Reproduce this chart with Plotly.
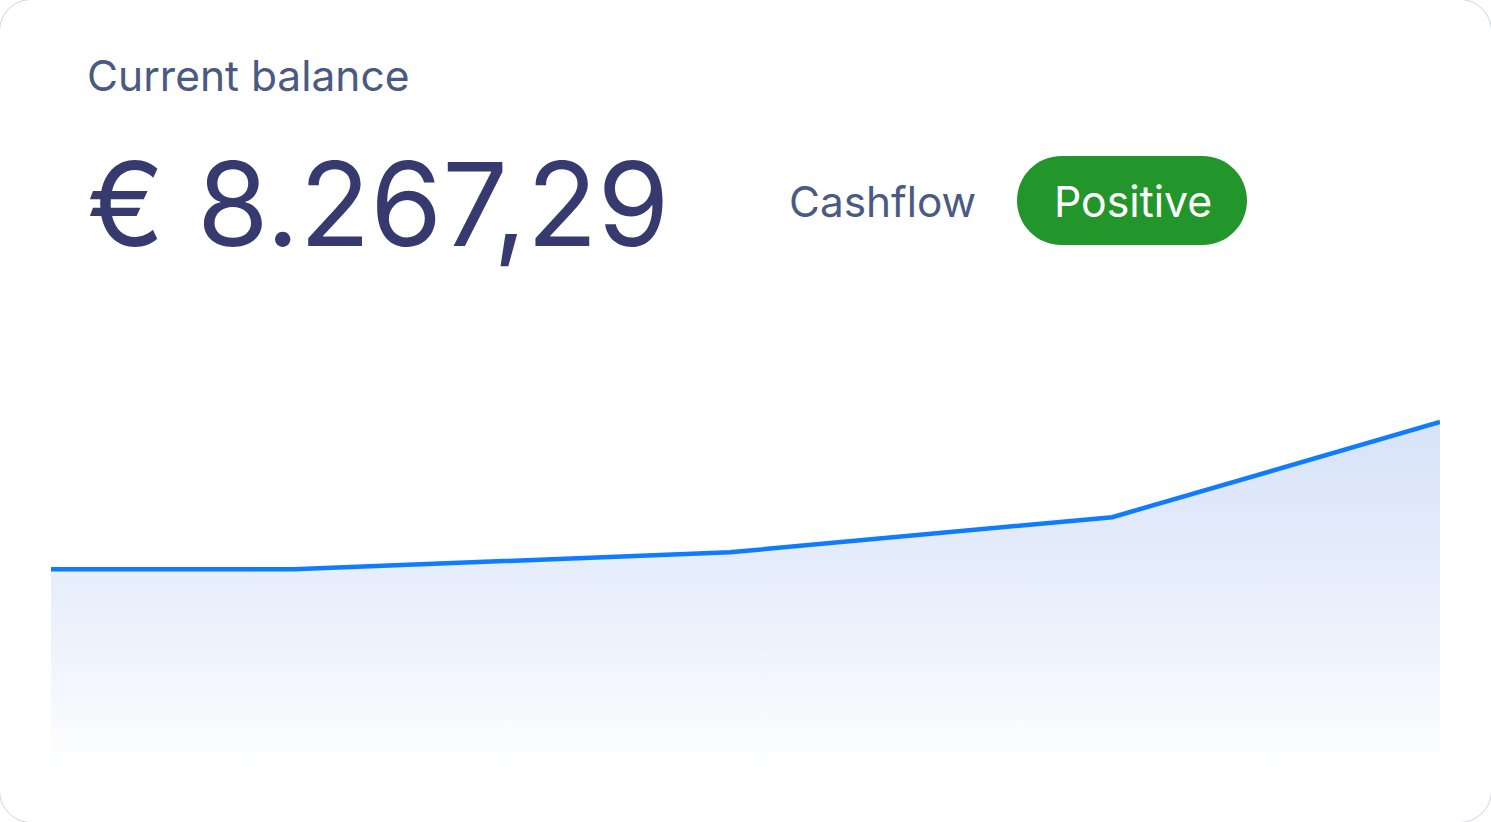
import plotly.graph_objects as go

# ---- data ----
days = [0, 5.23, 14.66, 22.92, 30]
balance = [4790, 4790, 5190, 6020, 8267.29]
title_text = "Current balance"
balance_text = "€ 8.267,29"
cashflow_label = "Cashflow"
cashflow_status = "Positive"

# ---- geometry (pixels) ----
W, H = 1491, 822
ML, MR, MT, MB = 51, 51, 300, 50
PW, PH = W - ML - MR, H - MT - MB


def px(x):
    return (x - ML) / PW


def py(y):
    return (H - MB - y) / PH


def rrect(w, h, r):
    k = 0.5523 * r
    hw, hh = w / 2, h / 2
    return (
        f"M {-hw + r},{-hh} L {hw - r},{-hh} "
        f"C {hw - r + k},{-hh} {hw},{-hh + r - k} {hw},{-hh + r} "
        f"L {hw},{hh - r} "
        f"C {hw},{hh - r + k} {hw - r + k},{hh} {hw - r},{hh} "
        f"L {-hw + r},{hh} "
        f"C {-hw + r - k},{hh} {-hw},{hh - r + k} {-hw},{hh - r} "
        f"L {-hw},{-hh + r} "
        f"C {-hw},{-hh + r - k} {-hw + r - k},{-hh} {-hw + r},{-hh} Z"
    )


fig = go.Figure()
fig.add_trace(
    go.Scatter(
        x=days,
        y=balance,
        mode="lines",
        line=dict(color="#0f7bff", width=4.5),
        fill="tozeroy",
        fillgradient=dict(
            type="vertical",
            start=0,
            stop=max(balance),
            colorscale=[[0, "rgba(255,255,255,1)"], [0.4, "#ecf1fc"], [1, "#d8e3f9"]],
        ),
        hoverinfo="skip",
    )
)

FONT = "Inter, 'Noto Sans', sans-serif"
annotations = [
    dict(x=px(85), y=py(75), text=title_text, xanchor="left", yanchor="middle",
         font=dict(family=FONT, size=42.5, color="#4b5a82")),
    dict(x=px(85), y=py(204), text=balance_text, xanchor="left", yanchor="middle",
         font=dict(family=FONT, size=116, color="#363a6f")),
    dict(x=px(787), y=py(201), text=cashflow_label, xanchor="left", yanchor="middle",
         font=dict(family=FONT, size=42.3, color="#4b5a82")),
    dict(x=px(1132.5), y=py(201), text=cashflow_status, xanchor="center", yanchor="middle",
         font=dict(family=FONT, size=42.8, color="#ffffff")),
]
for a in annotations:
    a.update(xref="paper", yref="paper", showarrow=False)

shapes = [
    dict(type="path", xref="paper", yref="paper", xsizemode="pixel", ysizemode="pixel",
         xanchor=px(W / 2), yanchor=py(H / 2), path=rrect(W + 1, H + 1, 32),
         line=dict(color="rgba(170,182,210,0.6)", width=1), fillcolor="rgba(0,0,0,0)",
         layer="above"),
    dict(type="path", xref="paper", yref="paper", xsizemode="pixel", ysizemode="pixel",
         xanchor=px(1132), yanchor=py(200.5), path=rrect(230, 89, 44.5),
         line=dict(width=0), fillcolor="#22962a", layer="below"),
]

fig.update_layout(
    width=W,
    height=H,
    margin=dict(l=ML, r=MR, t=MT, b=MB, pad=0),
    paper_bgcolor="#ffffff",
    plot_bgcolor="rgba(0,0,0,0)",
    showlegend=False,
    xaxis=dict(visible=False, range=[days[0], days[-1]], fixedrange=True),
    yaxis=dict(visible=False, range=[0, 11150], fixedrange=True),
    annotations=annotations,
    shapes=shapes,
)

fig.write_html("out.html", config={"displayModeBar": False},
               post_script="document.body.style.margin='0';")
